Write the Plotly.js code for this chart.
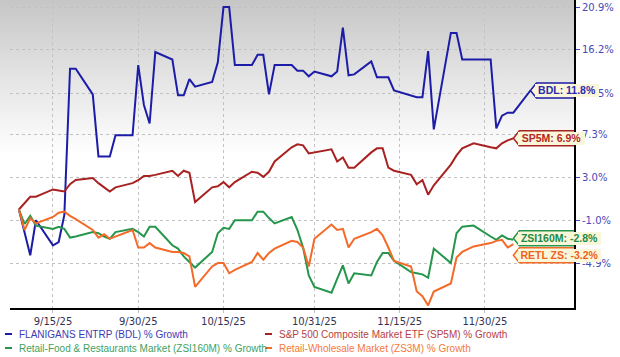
<!DOCTYPE html>
<html><head><meta charset="utf-8">
<script src="https://cdn.plot.ly/plotly-3.0.1.min.js"></script>
<style>html,body{margin:0;padding:0;background:#fff}#chart{width:620px;height:357px}</style>
</head><body><div id="chart"></div>
<script>
// Trading days
const dates = [
 '2025-09-09','2025-09-10','2025-09-11','2025-09-12','2025-09-15','2025-09-16','2025-09-17','2025-09-18','2025-09-19',
 '2025-09-22','2025-09-23','2025-09-24','2025-09-25','2025-09-26','2025-09-29','2025-09-30',
 '2025-10-01','2025-10-02','2025-10-03','2025-10-06','2025-10-07','2025-10-08','2025-10-09','2025-10-10',
 '2025-10-13','2025-10-14','2025-10-15','2025-10-16','2025-10-17','2025-10-20','2025-10-21','2025-10-22','2025-10-23','2025-10-24',
 '2025-10-27','2025-10-28','2025-10-29','2025-10-30','2025-10-31',
 '2025-11-03','2025-11-04','2025-11-05','2025-11-06','2025-11-07','2025-11-10','2025-11-11','2025-11-12','2025-11-13','2025-11-14',
 '2025-11-17','2025-11-18','2025-11-19','2025-11-20','2025-11-21','2025-11-24','2025-11-25','2025-11-26','2025-11-28',
 '2025-12-01','2025-12-02','2025-12-03','2025-12-04','2025-12-05','2025-12-08'
];
// % growth
const bdl = [0,-2.0,-4.2,-1.0,-3.3,-3.0,-0.5,14.1,14.1,11.4,5.1,5.1,5.1,7.2,7.2,14.5,
 10.3,8.4,15.9,15.1,11.3,11.3,13.0,12.2,12.7,14.8,20.9,20.9,14.5,14.5,15.6,15.6,11.4,14.5,14.5,13.9,13.9,13.3,13.8,
 13.3,13.8,18.6,13.4,13.5,14.9,13.2,13.2,13.2,11.8,11.3,11.1,11.1,16.0,7.8,18.0,18.0,15.1,15.1,
 15.1,7.9,9.2,9.5,9.5,11.8];
const sp5m = [0,0.6,1.2,1.2,1.9,1.8,1.7,2.4,2.8,3.0,2.5,2.1,1.7,2.1,2.5,2.8,
 3.2,3.2,3.3,3.7,3.2,3.7,3.5,0.7,2.1,2.2,2.6,2.1,2.6,3.6,3.5,3.1,3.6,4.6,6.0,6.3,6.2,5.4,5.5,
 5.8,4.6,5.0,4.0,4.0,5.5,5.9,5.9,4.0,3.7,3.3,2.4,2.8,1.4,2.3,4.3,5.2,5.9,6.4,
 6.0,5.9,6.4,6.7,6.9];
const zsi160m = [0,-1.35,-0.6,-1.5,-1.8,-1.6,-1.8,-2.6,-2.5,-2.1,-2.2,-2.5,-2.7,-2.1,-1.8,-2.1,
 -2.5,-1.6,-1.6,-3.3,-3.6,-4.3,-4.8,-5.3,-3.9,-2.2,-1.7,-1.8,-1.0,-1.0,-0.2,-0.2,-0.8,-1.3,-0.7,-1.9,-3.5,-6.0,-7.0,
 -7.5,-6.3,-5.1,-6.7,-5.8,-6.0,-4.8,-4.0,-4.0,-4.7,-5.7,-5.8,-5.9,-6.2,-3.6,-4.9,-2.2,-1.6,-1.5,
 -2.5,-2.8,-2.4,-2.7,-2.8];
const zs3m = [0,-1.9,-0.8,-1.3,-0.7,-0.3,-0.2,-0.6,-0.9,-1.9,-2.6,-2.3,-2.7,-2.5,-1.9,-3.5,
 -3.5,-3.1,-3.5,-3.9,-3.9,-4.0,-4.3,-7.0,-5.2,-4.9,-4.9,-5.8,-5.5,-4.8,-4.0,-4.6,-4.0,-3.6,-2.9,-3.0,-3.5,-5.2,-2.7,
 -1.4,-1.9,-1.8,-3.5,-2.7,-2.1,-1.8,-2.4,-3.5,-4.7,-5.2,-7.4,-7.8,-8.6,-7.4,-6.7,-4.4,-3.9,-3.4,
 -3.1,-2.9,-2.8,-3.5,-3.2];

const seriesNames = ['FLANIGANS ENTRP (BDL) % Growth','S&P 500 Composite Market ETF (SP5M) % Growth',
 'Retail-Food & Restaurants Market (ZSI160M) % Growth','Retail-Wholesale Market (ZS3M) % Growth'];
const seriesShort = ['BDL','SP5M','ZSI160M','RETL ZS'];
const yTickVals = [20.9,16.2,11.5,7.3,3.0,-1.0,-4.9];
const xTickVals = ['2025-09-15','2025-09-30','2025-10-15','2025-10-31','2025-11-15','2025-11-30'];
const xTickText = ['9/15/25','9/30/25','10/15/25','10/31/25','11/15/25','11/30/25'];

// styles
const lineColors = ['#1c1ca8','#a82222','#25964c','#f46a28'];
const textColors = ['#2a2ab0','#b02828','#228a45','#f0601e'];
const legendColors = ['#3c3cb6','#b8403f','#3f9f5e','#f47a3c'];
const boxWidths = [70,73,89,89];
const boxDy = [0,0,1.5,-11];
const CREAM = '#faf6d9';

const all = [bdl, sp5m, zsi160m, zs3m];
const M = {l:10, r:46, t:0, b:49};
const W = 620 - M.l - M.r, H = 357 - M.t - M.b;
const px = p => (p - M.l) / W;
const py = p => (M.t + H - p) / H;

const traces = all.map((vals, i) => ({
  type:'scatter', mode:'lines', name: seriesNames[i],
  x: dates.slice(0, vals.length), y: vals.map(v => 100 + v),
  line:{color: lineColors[i], width:2}, hoverinfo:'skip'
}));

const shapes = [];
const annotations = [];
all.forEach((vals, i) => {
  const n = vals.length - 1, d = dates[n], v = vals[n], w = boxWidths[i], dy = boxDy[i], h = 7.5;
  shapes.push({type:'path', xref:'x', yref:'y', xsizemode:'pixel', ysizemode:'pixel',
    xanchor: d, yanchor: 100 + v, layer:'above',
    path:`M0,${dy} L6,${dy+h} L${w},${dy+h} L${w},${dy-h} L6,${dy-h} Z`,
    fillcolor: CREAM, line:{color: lineColors[i], width:1.5}});
  annotations.push({xref:'x', yref:'y', x: d, y: Math.log10(100 + v), xanchor:'left', yanchor:'middle',
    xshift: 5, yshift: dy, showarrow:false, width: w - 6, height: 12.5,
    bgcolor: CREAM, borderwidth:0, borderpad:0, align:'center',
    text:`<b>${seriesShort[i]}: ${v.toFixed(1)}%</b>`,
    font:{family:'Liberation Sans, Arial', size:10.5, color: textColors[i]}});
});

// legend
const legPos = [[5,334],[265,334],[5,348],[265,348]];
seriesNames.forEach((nm, i) => {
  const [lx, ly] = legPos[i];
  shapes.push({type:'line', xref:'paper', yref:'paper', x0: px(lx), x1: px(lx+7), y0: py(ly), y1: py(ly),
    line:{color: lineColors[i], width:2}});
  annotations.push({xref:'paper', yref:'paper', x: px(lx+12), y: py(ly), xanchor:'left', yanchor:'middle',
    showarrow:false, text: nm.replace('&','&amp;'), font:{family:'Liberation Sans, Arial', size:10, color: legendColors[i]}});
});

const gradSvg = '<svg xmlns="http://www.w3.org/2000/svg" width="10" height="100" preserveAspectRatio="none"><defs><linearGradient id="g" x1="0" y1="0" x2="0" y2="1"><stop offset="0" stop-color="#c6c6c6"/><stop offset="0.5" stop-color="#e4e4e4"/><stop offset="1" stop-color="#ffffff"/></linearGradient></defs><rect width="10" height="100" fill="url(#g)"/></svg>';

const layout = {
  width:620, height:357, margin:M,
  paper_bgcolor:'#ffffff', plot_bgcolor:'rgba(0,0,0,0)', showlegend:false,
  images:[{source:'data:image/svg+xml;charset=utf-8,' + encodeURIComponent(gradSvg),
    xref:'paper', yref:'paper', x: px(0), y: 1, sizex: px(M.l + W) - px(0), sizey: 155 / H,
    xanchor:'left', yanchor:'top', sizing:'stretch', layer:'below'}],
  xaxis:{type:'date', range:['2025-09-07 10:30','2025-12-15 16:00'],
    tickmode:'array', tickvals:xTickVals, ticktext:xTickText,
    showgrid:true, gridcolor:'#c2c2c2', griddash:'dot', gridwidth:1,
    ticks:'outside', ticklen:3, tickcolor:'#c2c2c2',
    showline:true, linecolor:'#000', linewidth:2, zeroline:false,
    tickfont:{family:'DejaVu Sans', size:10, color:'#333355'}},
  yaxis:{type:'log', side:'right', range:[Math.log10(91.18), Math.log10(121.7)],
    tickmode:'array', tickvals: yTickVals.map(t => 100 + t), ticktext: yTickVals.map(t => t.toFixed(1) + '%'),
    showgrid:true, gridcolor:'#c2c2c2', griddash:'dot', gridwidth:1,
    ticks:'outside', ticklen:4, tickcolor:'#4848b8',
    showline:true, linecolor:'#000', linewidth:2, zeroline:false,
    tickfont:{family:'DejaVu Sans', size:10, color:'#4848b8'}},
  shapes, annotations
};
Plotly.newPlot('chart', traces, layout, {staticPlot:true, displayModeBar:false});
</script></body></html>
